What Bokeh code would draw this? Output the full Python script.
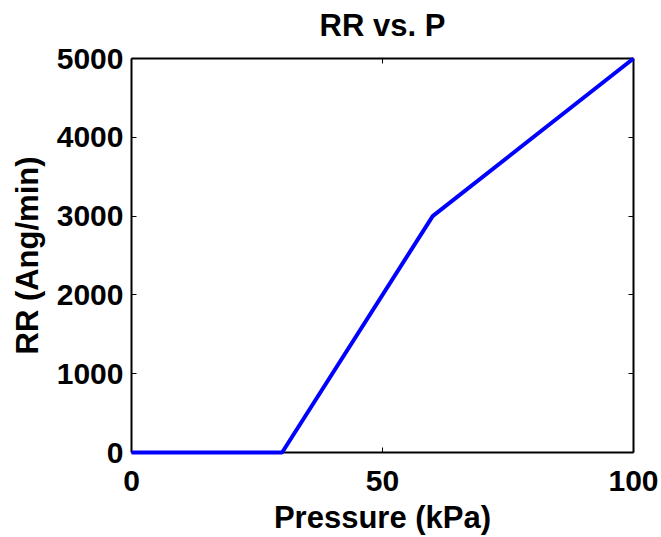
from bokeh.plotting import figure
from bokeh.models import LinearAxis, FixedTicker, Range1d
from bokeh.embed import file_html
from bokeh.resources import INLINE

# Removal rate as a function of pressure
pressure_kpa = [0, 30, 60, 100]
removal_rate = [0, 0, 3000, 5000]

x_ticks = [0, 50, 100]
y_ticks = [0, 1000, 2000, 3000, 4000, 5000]

title_text = "RR vs. P"
x_label = "Pressure (kPa)"
y_label = "RR (Ang/min)"

FONT = "Liberation Sans"

p = figure(
    width=661, height=537,
    x_range=Range1d(0, 100), y_range=Range1d(0, 5000),
    output_backend="svg", toolbar_location=None,
    min_border_left=131, min_border_right=28,
    min_border_top=58, min_border_bottom=84,
    x_axis_location=None, y_axis_location=None,
)

p.grid.visible = False
p.outline_line_color = None
p.background_fill_color = "white"
p.border_fill_color = "white"


def style_axis(ax, ticks, labels=True):
    ax.ticker = FixedTicker(ticks=ticks)
    ax.axis_line_color = "black"
    ax.axis_line_width = 2
    ax.major_tick_in = 5
    ax.major_tick_out = 0
    ax.major_tick_line_color = "black"
    ax.major_tick_line_width = 1
    ax.minor_tick_line_color = None
    ax.major_label_text_font = FONT
    ax.major_label_text_font_size = "30px"
    ax.major_label_text_font_style = "bold"
    ax.major_label_text_color = "black"
    ax.axis_label_text_font = FONT
    ax.axis_label_text_font_size = "31px"
    ax.axis_label_text_font_style = "bold"
    ax.axis_label_text_color = "black"
    if not labels:
        # tick marks only on the opposite sides of the box
        ax.major_label_overrides = {t: "" for t in ticks}
        ax.major_label_text_font_size = "1px"
        ax.major_label_standoff = 0


xb = LinearAxis(axis_label=x_label)
p.add_layout(xb, "below")
yl = LinearAxis(axis_label=y_label)
p.add_layout(yl, "left")
# the top box edge carries the chart title as its label
xt = LinearAxis(axis_label=title_text)
p.add_layout(xt, "above")
yr = LinearAxis()
p.add_layout(yr, "right")

style_axis(xb, x_ticks)
style_axis(yl, y_ticks)
style_axis(xt, x_ticks, labels=False)
style_axis(yr, y_ticks, labels=False)
xb.major_label_standoff = 18
yl.major_label_standoff = 8
xb.axis_label_standoff = 6
yl.axis_label_standoff = 9
xt.axis_label_standoff = 16

p.line(pressure_kpa, removal_rate, line_color="#0000ff", line_width=4,
       level="overlay")

open("out.html", "w").write(file_html(p, INLINE))
